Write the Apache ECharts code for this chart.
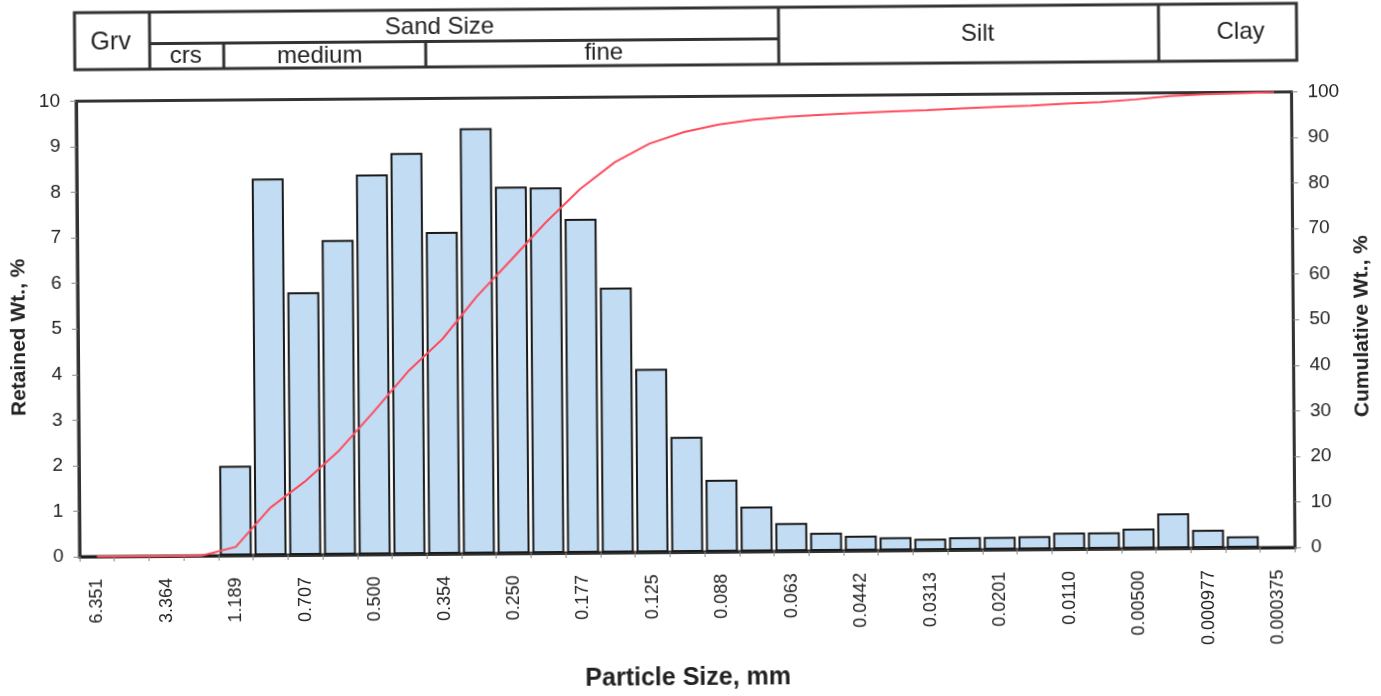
<!DOCTYPE html>
<html>
<head>
<meta charset="utf-8">
<title>Particle Size Distribution</title>
<script src="https://cdn.jsdelivr.net/npm/echarts@6/dist/echarts.min.js"></script>
<style>
  html, body { margin: 0; padding: 0; background: #fff; overflow: hidden; }
  /* the scanned original is slightly tilted */
  #main { width: 1381px; height: 696px; transform: rotate(-0.44deg); transform-origin: 50% 50%; }
</style>
</head>
<body>
<div id="main"></div>
<script type="text/javascript">
// sieve sizes shown on the axis (every other class is unlabeled)
var sizeLabels = ['6.351', '3.364', '1.189', '0.707', '0.500', '0.354', '0.250', '0.177', '0.125',
  '0.088', '0.063', '0.0442', '0.0313', '0.0201', '0.0110', '0.00500', '0.000977', '0.000375'];

// retained weight per class, %
var retained = [0, 0, 0, 0, 1.97, 8.27, 5.77, 6.91, 8.34, 8.81, 7.07, 9.34, 8.05, 8.03, 7.33, 5.82,
  4.03, 2.53, 1.58, 0.99, 0.62, 0.40, 0.33, 0.29, 0.25, 0.28, 0.28, 0.29, 0.36, 0.36, 0.44, 0.77,
  0.40, 0.25, 0];

// cumulative weight, %
var cumulative = [0, 0, 0, 0, 1.9, 10.4, 16.1, 22.9, 31.3, 40.1, 47.2, 56.5, 64.5, 72.6, 79.9, 85.7,
  89.7, 92.2, 93.8, 94.8, 95.4, 95.8, 96.1, 96.4, 96.6, 96.9, 97.2, 97.4, 97.8, 98.1, 98.6, 99.3,
  99.6, 99.8, 100];

var categories = [];
sizeLabels.forEach(function (s, i) {
  categories.push(s);
  if (i < sizeLabels.length - 1) categories.push('');
});

var FONT = '"Liberation Sans", Arial, sans-serif';
var INK = '#333';

// header table with the size classes
function box(x, y, w, h) {
  return { type: 'rect', shape: { x: x, y: y, width: w, height: h },
    style: { fill: 'none', stroke: INK, lineWidth: 3 } };
}
function hline(x1, x2, y) {
  return { type: 'line', shape: { x1: x1, y1: y, x2: x2, y2: y }, style: { stroke: INK, lineWidth: 3 } };
}
function vline(x, y1, y2) {
  return { type: 'line', shape: { x1: x, y1: y1, x2: x, y2: y2 }, style: { stroke: INK, lineWidth: 3 } };
}
function label(t, x, y, size) {
  return { type: 'text', style: { text: t, x: x, y: y, fill: '#222', font: (size || 24) + 'px ' + FONT,
    align: 'center', verticalAlign: 'middle', textAlign: 'center', textVerticalAlign: 'middle' } };
}

var header = [
  box(77, 8, 1222, 57),
  vline(152, 8, 65),
  vline(781, 8, 65),
  vline(1161, 8, 65),
  hline(152, 781, 39.5),
  vline(226, 39.5, 65),
  vline(428, 39.5, 65),
  label('Grv', 113, 38, 25),
  label('Sand Size', 442, 25),
  label('crs', 188, 52),
  label('medium', 322, 53),
  label('fine', 606, 52),
  label('Silt', 980, 36),
  label('Clay', 1243, 36)
];

var myChart = echarts.init(document.getElementById('main'));

var axisLineStyle = { show: true, lineStyle: { color: INK, width: 3 } };
var tickStyle = { show: true, length: 6, lineStyle: { color: '#888', width: 1 } };

var option = {
  backgroundColor: '#fff',
  animation: false,
  textStyle: { fontFamily: FONT },
  graphic: header,
  grid: { left: 78, right: 79, top: 96.5, bottom: 140, show: true, borderColor: INK, borderWidth: 3 },
  xAxis: {
    type: 'category',
    data: categories,
    boundaryGap: true,
    axisLine: axisLineStyle,
    axisTick: { show: true, interval: 0, length: 5, lineStyle: { color: '#888', width: 1 } },
    axisLabel: { interval: 0, rotate: 90, margin: 22, fontSize: 18, color: '#222', fontFamily: FONT },
    splitLine: { show: false },
    name: 'Particle Size, mm',
    nameLocation: 'middle',
    nameGap: 114,
    nameTextStyle: { fontSize: 25, fontWeight: 'bold', color: '#222', fontFamily: FONT }
  },
  yAxis: [
    {
      type: 'value', min: 0, max: 10, interval: 1, position: 'left',
      axisLine: axisLineStyle, axisTick: tickStyle,
      axisLabel: { margin: 16, fontSize: 19, color: '#222', fontFamily: FONT },
      splitLine: { show: false },
      name: 'Retained Wt., %', nameLocation: 'middle', nameGap: 48, nameRotate: 90,
      nameTextStyle: { fontSize: 21, fontWeight: 'bold', color: '#222', fontFamily: FONT, padding: [0, 16, 0, 0] }
    },
    {
      type: 'value', min: 0, max: 100, interval: 10, position: 'right',
      axisLine: axisLineStyle, axisTick: tickStyle,
      axisLabel: { margin: 16, fontSize: 19, color: '#222', fontFamily: FONT },
      splitLine: { show: false },
      name: 'Cumulative Wt., %', nameLocation: 'middle', nameGap: 46, nameRotate: 90,
      nameTextStyle: { fontSize: 21, fontWeight: 'bold', color: '#222', fontFamily: FONT, padding: [0, 14, 0, 0] }
    }
  ],
  series: [
    {
      name: 'Retained',
      type: 'bar',
      yAxisIndex: 0,
      data: retained,
      barCategoryGap: '8%',
      itemStyle: { color: '#c2dcf3', borderColor: '#1a1a1a', borderWidth: 2 }
    },
    {
      name: 'Cumulative',
      type: 'line',
      yAxisIndex: 1,
      data: cumulative,
      symbol: 'none',
      z: 4,
      lineStyle: { color: '#ff4b5c', width: 2 }
    }
  ]
};

myChart.setOption(option);
</script>
</body>
</html>
